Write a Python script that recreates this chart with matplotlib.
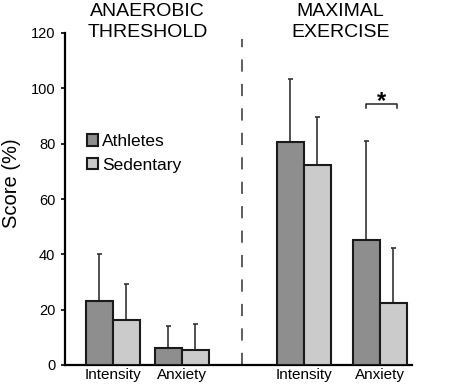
import matplotlib
matplotlib.use("Agg")
import matplotlib.pyplot as plt
from matplotlib.patches import Patch

plt.rcParams['font.family'] = ['Liberation Sans', 'DejaVu Sans']

# Data
categories = ["Intensity", "Anxiety", "Intensity", "Anxiety"]
athletes = [23, 6.0, 80.5, 45.2]
athletes_sd = [17, 8.2, 22.8, 35.9]
sedentary = [16.3, 5.4, 72.4, 22.3]
sedentary_sd = [12.9, 9.3, 17.1, 19.9]
series_names = ["Athletes", "Sedentary"]
y_ticks = [0, 20, 40, 60, 80, 100, 120]
panel_titles = ["ANAEROBIC\nTHRESHOLD", "MAXIMAL\nEXERCISE"]

# Layout (x in arbitrary units)
group_pos = [113, 182, 304, 380]
bw = 27
c_ath = "#8e8e8e"
c_sed = "#cbcbcb"

fig = plt.figure(figsize=(4.56, 3.87), dpi=100)
ax = fig.add_axes([65/456, 1-365/387, (412-65)/456, (365-33)/387])
ax.set_xlim(65, 412)
ax.set_ylim(0, 120)

xa = [p - bw/2 for p in group_pos]
xs = [p + bw/2 for p in group_pos]
ax.bar(xa, athletes, width=bw, color=c_ath, edgecolor="#1a1a1a", linewidth=1.5, zorder=3)
ax.bar(xs, sedentary, width=bw, color=c_sed, edgecolor="#1a1a1a", linewidth=1.5, zorder=3)
ax.errorbar(xa, athletes, yerr=[[0]*4, athletes_sd], fmt="none", ecolor="#333333",
            elinewidth=1.2, capsize=1.8, capthick=1.2, zorder=2)
ax.errorbar(xs, sedentary, yerr=[[0]*4, sedentary_sd], fmt="none", ecolor="#333333",
            elinewidth=1.2, capsize=1.8, capthick=1.2, zorder=2)

# divider
ax.plot([242, 242], [0, 118], color="#333333", lw=1.1, linestyle=(0, (8, 8)), zorder=1)

# significance bracket
ax.plot([366, 366, 397, 397], [92.9, 94.4, 94.4, 92.9], color="#222222", lw=1.1)
ax.text(381.5, 95.2, "*", ha="center", va="center", fontsize=17, fontweight="bold")

for sp in ["top", "right"]:
    ax.spines[sp].set_visible(False)
ax.spines["left"].set_linewidth(1.6)
ax.spines["bottom"].set_linewidth(1.6)
ax.set_yticks(y_ticks)
ax.set_yticklabels([str(v) for v in y_ticks], fontsize=10.5)
ax.tick_params(axis="y", length=3, width=1.2, pad=4)
ax.set_xticks(group_pos)
ax.set_xticklabels(categories, fontsize=11)
ax.tick_params(axis="x", length=0, pad=2)
ax.set_ylabel("Score (%)", fontsize=14.5)
ax.yaxis.set_label_coords(-44/347, (365-183.5)/332)

# titles
fig.text(147.5/456, 1-22/387, panel_titles[0], ha="center", va="center", fontsize=14, linespacing=1.25)
fig.text(340.5/456, 1-22/387, panel_titles[1], ha="center", va="center", fontsize=14, linespacing=1.25)

handles = [Patch(facecolor=c_ath, edgecolor="#1a1a1a", linewidth=1.5),
           Patch(facecolor=c_sed, edgecolor="#1a1a1a", linewidth=1.5)]
ax.legend(handles, series_names, loc="upper left", bbox_to_anchor=(87/456, 1-134/387),
          bbox_transform=fig.transFigure, frameon=False, fontsize=12.5,
          handlelength=0.65, handleheight=0.65, handletextpad=0.2, labelspacing=0.5,
          borderpad=0, borderaxespad=0)

fig.savefig("out.png", dpi=100)
